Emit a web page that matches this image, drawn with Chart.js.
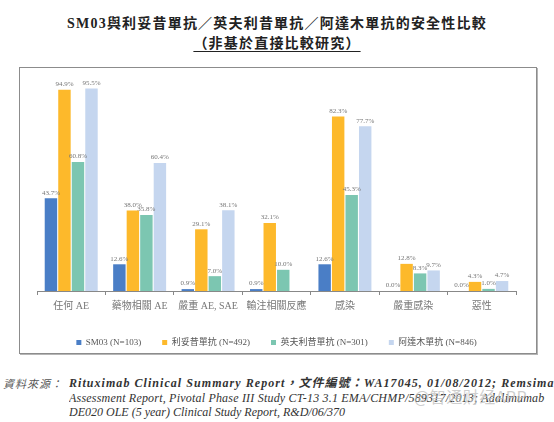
<!DOCTYPE html>
<html>
<head>
<meta charset="utf-8">
<script src="https://cdn.jsdelivr.net/npm/chart.js@4.4.1/dist/chart.umd.min.js"></script>
<style>
  html, body { margin: 0; padding: 0; background: #fff; }
  body { width: 554px; height: 422px; position: relative; overflow: hidden; }
  .title { position: absolute; left: 0; width: 554px; text-align: center; color: #222; font-weight: bold; letter-spacing: 1.2px; font-size: 14px; }
  .t1 { top: 12px; font-family: 'Liberation Serif', 'Noto Sans CJK TC', serif; }
  .t2 { top: 32px; font-family: 'Noto Sans CJK TC', sans-serif; }
  .t2 span { text-decoration: underline; text-underline-offset: 3px; }
  .frame { position: absolute; left: 19px; top: 67px; width: 516px; height: 285px; border: 1px solid #8c8c8c; box-shadow: 1px 1px 0 #b5b5b5; }
  #wrap { position: absolute; left: 20px; top: 68px; width: 515px; height: 289px; }
  .src { position: absolute; left: 3px; top: 376px; width: 551px; font-family: 'Liberation Serif', 'Noto Sans CJK TC', serif; color: #333; font-size: 12px; line-height: 14.5px; }
  .src .lab { position: absolute; left: 0; top: 0; font-family: 'Noto Sans CJK TC', sans-serif; font-size: 11px; letter-spacing: 1px; color: #555; font-style: italic; }
  .src .body { position: absolute; left: 66px; top: 0; width: 490px; font-style: italic; white-space: nowrap; overflow: hidden; }
  .src .l1 { font-weight: bold; letter-spacing: 1.05px; }
  .src .l2 { letter-spacing: 0.2px; }
  .wm { position: absolute; left: 414px; top: 384px; font-family: 'Noto Sans CJK SC', sans-serif; font-size: 16px; color: rgba(190,190,190,0.75); letter-spacing: 0.5px; }
</style>
</head>
<body>
<div class="title t1">SM03與利妥昔單抗／英夫利昔單抗／阿達木單抗的安全性比較</div>
<div class="title t2"><span>（非基於直接比較研究）</span></div>
<div class="frame"></div>
<div id="wrap"><canvas id="chart"></canvas></div>
<div class="src">
  <div class="lab">資料來源：</div>
  <div class="body">
    <div class="l1">Rituximab Clinical Summary Report，文件編號：WA17045, 01/08/2012; Remsima</div>
    <div class="l2">Assessment Report, Pivotal Phase III Study CT-13 3.1 EMA/CHMP/589317/2013; Adalimumab</div>
    <div>DE020 OLE (5 year) Clinical Study Report, R&amp;D/06/370</div>
  </div>
</div>
<div class="wm">@智通财经APP</div>
<script>
// 類別及各藥物數據 (%)
const categories = ['任何 AE', '藥物相關 AE', '嚴重 AE, SAE', '輸注相關反應', '感染', '嚴重感染', '惡性'];
const seriesNames = ['SM03 (N=103)', '利妥昔單抗 (N=492)', '英夫利昔單抗 (N=301)', '阿達木單抗 (N=846)'];
const sm03 = [43.7, 12.6, 0.9, 0.9, 12.6, 0.0, 0.0];
const rituximab = [94.9, 38.0, 29.1, 32.1, 82.3, 12.8, 4.3];
const infliximab = [60.8, 35.8, 7.0, 10.0, 45.3, 8.3, 1.0];
const adalimumab = [95.5, 60.4, 38.1, null, 77.7, 9.7, 4.7];
const colors = ['#4a7ec6', '#fdb92b', '#7cc6b1', '#c5d6ef'];

const serif = "'Liberation Serif', 'Noto Sans CJK TC', serif";

// 在柱頂上寫百分比
const valueLabels = {
  id: 'valueLabels',
  afterDatasetsDraw(chart) {
    const ctx = chart.ctx;
    ctx.save();
    ctx.font = '7px ' + serif;
    ctx.fillStyle = '#777';
    ctx.textAlign = 'center';
    ctx.textBaseline = 'bottom';
    chart.data.datasets.forEach((ds, i) => {
      const meta = chart.getDatasetMeta(i);
      meta.data.forEach((bar, j) => {
        const v = ds.data[j];
        if (v === null || v === undefined) return;
        ctx.fillText(v.toFixed(1) + '%', bar.x, bar.y - 2);
      });
    });
    ctx.restore();
  }
};

const allSeries = [sm03, rituximab, infliximab, adalimumab];

new Chart(document.getElementById('chart'), {
  type: 'bar',
  data: {
    labels: categories,
    datasets: allSeries.map((d, i) => ({
      label: seriesNames[i],
      data: d,
      backgroundColor: colors[i],
      categoryPercentage: 0.79,
      barPercentage: 0.92,
    })),
  },
  options: {
    responsive: true,
    maintainAspectRatio: false,
    animation: false,
    layout: { padding: { left: 17, right: 19, top: 11, bottom: 0 } },
    scales: {
      y: { display: false, min: 0, max: 100 },
      x: {
        grid: { display: true, drawOnChartArea: false, drawTicks: true, tickLength: 4, color: '#888', offset: true },
        border: { display: true, color: '#888', width: 1 },
        ticks: { color: '#777', padding: 5, font: { family: serif, size: 10 } },
      },
    },
    plugins: {
      legend: {
        position: 'bottom',
        labels: {
          boxWidth: 5,
          boxHeight: 5,
          padding: 21,
          color: '#555',
          font: { family: serif, size: 9 },
        },
      },
      tooltip: { enabled: false },
    },
  },
  plugins: [valueLabels],
});
</script>
</body>
</html>
